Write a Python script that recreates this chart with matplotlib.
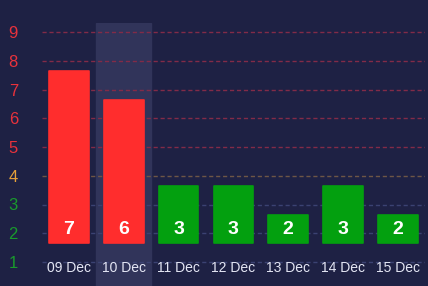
import matplotlib.pyplot as plt

# data
days = ['09 Dec', '10 Dec', '11 Dec', '12 Dec', '13 Dec', '14 Dec', '15 Dec']
counts = [7, 6, 3, 3, 2, 3, 2]
levels = [1, 2, 3, 4, 5, 6, 7, 8, 9]
level_colors = ['#199a2c'] * 3 + ['#e8a23a'] + ['#e8323c'] * 5
grid_colors = ['#3b4272'] * 3 + ['#6e5646'] + ['#822b48'] * 5
bar_colors = ['#ff2d2d' if c >= 5 else '#03a00f' for c in counts]
highlight = 1  # hovered category (10 Dec)

base = 1.65  # bars float a bit above level 1 in the original

plt.rcParams['font.family'] = ['Liberation Sans', 'DejaVu Sans']

fig = plt.figure(figsize=(4.28, 2.86), dpi=100, facecolor='#1e2144')
ax = fig.add_axes([41.6 / 428, 0, 383.6 / 428, 1 - 23 / 286])
ax.set_facecolor('#1e2144')
ax.set_xlim(-0.5, len(days) - 0.5)
ax.set_ylim(1 - 24 / 28.75, 1 + 239 / 28.75)

# hover shadow
ax.axvspan(highlight - 0.5, highlight + 0.5, color='#31345a', zorder=0)

# dashed grid lines, coloured per level
for lv, gc in zip(levels, grid_colors):
    ax.axhline(lv, color=gc, lw=1, ls=(0, (3, 2)), zorder=1)

x = list(range(len(days)))
heights = [c - 1 for c in counts]
bars = ax.bar(x, heights, bottom=base, width=0.72, color=bar_colors,
              edgecolor=bar_colors, linewidth=1.2, zorder=2)
for b in bars:
    b.set_joinstyle('round')

for xi, c in zip(x, counts):
    ax.text(xi, base + 0.47, str(c), color='white', fontsize=14, fontweight='bold',
            ha='center', va='center', zorder=3)

for xi, d in zip(x, days):
    ax.text(xi, 0.79, d, color='#e4e6f4', fontsize=10, ha='center', va='center', zorder=3)

ax.set_yticks(levels)
ax.set_yticklabels([str(l) for l in levels], fontsize=12)
for lab, col in zip(ax.get_yticklabels(), level_colors):
    lab.set_color(col)
ax.tick_params(axis='y', length=0, pad=17)
ax.set_xticks([])
for s in ax.spines.values():
    s.set_visible(False)

fig.savefig('out.png', dpi=100, facecolor=fig.get_facecolor())
